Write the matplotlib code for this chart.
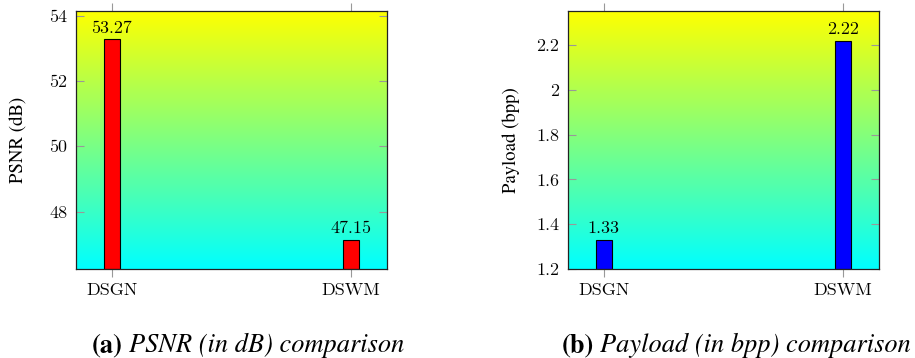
import numpy as np
import matplotlib
matplotlib.use("Agg")
import matplotlib.pyplot as plt
from matplotlib.colors import LinearSegmentedColormap

# data
methods = ["DSGN", "DSWM"]
psnr = [53.27, 47.15]
payload = [1.33, 2.22]
psnr_ticks = [48, 50, 52, 54]
payload_ticks = [1.2, 1.4, 1.6, 1.8, 2.0, 2.2]
payload_ticklabels = ["1.2", "1.4", "1.6", "1.8", "2", "2.2"]

times = ["TeX Gyre Termes", "Liberation Serif", "DejaVu Serif"]
lm = ["Latin Modern Roman", "DejaVu Serif"]
plt.rcParams["font.family"] = times

grad = LinearSegmentedColormap.from_list("cy", [(0, 1, 1), (1, 1, 0)])


def draw_panel(ax, vals, color, ylim, ticks, ticklabels, ylabel):
    x = np.arange(len(methods))
    # gradient background
    g = np.linspace(0, 1, 256).reshape(-1, 1)
    ax.imshow(g, cmap=grad, origin="lower", extent=[0, 1, 0, 1],
              transform=ax.transAxes, aspect="auto", zorder=0)
    bars = ax.bar(x, [v - ylim[0] for v in vals], bottom=ylim[0], width=0.067,
                  color=color, edgecolor="black", linewidth=0.8, zorder=2)
    for b, v in zip(bars, vals):
        ax.annotate("%.2f" % v, (b.get_x() + b.get_width() / 2, v),
                    xytext=(0, 2.5), textcoords="offset points", family=lm,
                    ha="center", va="bottom", fontsize=13, zorder=3)
    ax.set_xlim(-0.15, 1.15)
    ax.set_ylim(*ylim)
    ax.set_xticks(x)
    ax.set_xticklabels(methods, fontsize=13, family=lm)
    ax.set_yticks(ticks)
    ax.set_yticklabels(ticklabels, fontsize=13, family=lm)
    ax.tick_params(axis="x", direction="out", top=True, color="#999999",
                   length=6, width=0.8, pad=4)
    ax.tick_params(axis="y", direction="in", right=True, color="#999999",
                   length=6, width=0.8, pad=6)
    for sp in ax.spines.values():
        sp.set_color("#222222")
        sp.set_linewidth(0.9)
        sp.set_zorder(4)
    ax.set_ylabel(ylabel, fontsize=13.5, va="center")
    ax.yaxis.set_label_coords(-0.181, 0.5)


def caption(fig, x_px, label, text):
    # bold "(a)" followed by italic caption text
    r = fig.canvas.get_renderer()
    t = fig.text(x_px / 915, 6 / 358, label, fontsize=19, fontweight="bold",
                 ha="left", va="baseline")
    bb = t.get_window_extent(renderer=r)
    fig.text((bb.x1 + 6) / 915, 6 / 358, text, fontsize=19, style="italic",
             ha="left", va="baseline")


fig = plt.figure(figsize=(9.15, 3.58), dpi=100)
ax1 = fig.add_axes([0.0827, 0.2486, 0.3399, 0.7207])
ax2 = fig.add_axes([0.6204, 0.2486, 0.3402, 0.7207])

draw_panel(ax1, psnr, "#ff0000", (46.25, 54.14), psnr_ticks,
           [str(t) for t in psnr_ticks], "PSNR (dB)")
draw_panel(ax2, payload, "#0000ff", (1.2, 2.352), payload_ticks,
           payload_ticklabels, "Payload (bpp)")

caption(fig, 92, "(a)", "PSNR (in dB) comparison")
caption(fig, 562, "(b)", "Payload (in bpp) comparison")

fig.savefig("out.png", dpi=100)
